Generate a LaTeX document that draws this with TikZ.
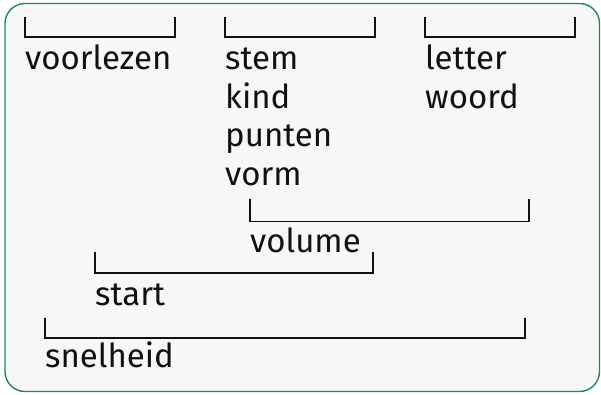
\documentclass[tikz,border=0pt]{standalone}
\usepackage{fontspec}
\setmainfont{Fira Sans}
\definecolor{framegreen}{HTML}{1E8C4E}
\definecolor{bgfill}{HTML}{F7F7F7}
\definecolor{ink}{HTML}{111111}
\tikzset{
  brk/.style={draw=ink, line width=1.4pt},
  lbl/.style={anchor=base west, inner sep=0pt, text=ink, font=\fontsize{33}{38}\selectfont}
}
\begin{document}
\begin{tikzpicture}[x=1pt,y=-1pt]
\useasboundingbox (0,0) rectangle (601,394);
\draw[framegreen, fill=bgfill, line width=1.4pt, rounded corners=20pt] (5,3.5) rectangle (599.5,391.5);
% brackets
\coordinate (b1a) at (25,17);  \coordinate (b1b) at (175,17);
\draw[brk] (b1a) -- ++(0,20) -| (b1b);
\coordinate (b2a) at (225,17); \coordinate (b2b) at (375,17);
\draw[brk] (b2a) -- ++(0,20) -| (b2b);
\coordinate (b3a) at (425,17); \coordinate (b3b) at (575,17);
\draw[brk] (b3a) -- ++(0,20) -| (b3b);
\coordinate (b4a) at (250,199); \coordinate (b4b) at (529,199);
\draw[brk] (b4a) -- ++(0,22.5) -| (b4b);
\coordinate (b5a) at (95,252); \coordinate (b5b) at (373,252);
\draw[brk] (b5a) -- ++(0,21) -| (b5b);
\coordinate (b6a) at (45,318); \coordinate (b6b) at (525,318);
\draw[brk] (b6a) -- ++(0,20) -| (b6b);
% labels
\node[lbl] (voorlezen) at (25,69) {voorlezen};
\node[lbl] (stem) at (225,69) {stem};
\node[lbl] (kind) at (225,108) {kind};
\node[lbl] (punten) at (225,146.5) {punten};
\node[lbl] (vorm) at (225,185) {vorm};
\node[lbl] (letter) at (425,69) {letter};
\node[lbl] (woord) at (425,108) {woord};
\node[lbl] (volume) at (250,252) {volume};
\node[lbl] (start) at (95,305) {start};
\node[lbl] (snelheid) at (45,367) {snelheid};
\end{tikzpicture}
\end{document}
